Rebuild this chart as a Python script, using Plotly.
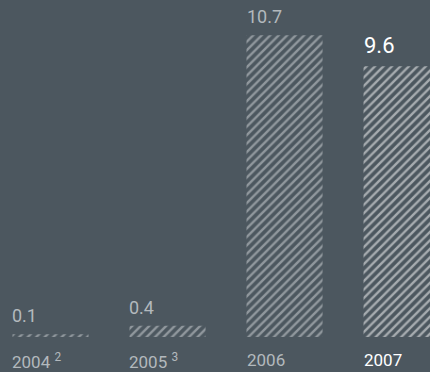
import plotly.graph_objects as go

years = ["2004 <sup>2</sup>", "2005 <sup>3</sup>", "2006", "2007"]
values = [0.1, 0.4, 10.7, 9.6]
value_labels = ["0.1", "0.4", "10.7", "9.6"]

BG = "#4c575f"
GREY_LINE = "#d4d8db"
GREY_TEXT = "#b3b9bd"
WHITE = "#ffffff"
line_colors = [GREY_LINE, GREY_LINE, GREY_LINE, WHITE]
text_colors = [GREY_TEXT, GREY_TEXT, GREY_TEXT, WHITE]
value_sizes = [18, 18, 18, 22]

xs = list(range(len(values)))
W = 0.65

fig = go.Figure()
fig.add_trace(go.Bar(
    x=xs, y=values, width=W,
    marker=dict(
        color=BG,
        line=dict(width=0),
        pattern=dict(shape="/", fgcolor=line_colors, bgcolor=BG, size=6, solidity=0.4, fillmode="overlay"),
    ),
    hoverinfo="skip",
))

for i, (v, lab) in enumerate(zip(values, value_labels)):
    fig.add_annotation(x=i - W / 2, y=v, xref="x", yref="y", text=lab, showarrow=False,
                       xanchor="left", yanchor="bottom", yshift=6, xshift=-2,
                       font=dict(family="Roboto", size=value_sizes[i], color=text_colors[i]))
    fig.add_annotation(x=i - W / 2, y=0, xref="x", yref="y", text=years[i], showarrow=False,
                       xanchor="left", yanchor="top", yshift=-11, xshift=-2,
                       font=dict(family="Roboto", size=17, color=text_colors[i]))

fig.update_layout(
    width=430, height=372,
    margin=dict(l=0, r=0, t=0, b=0),
    paper_bgcolor=BG, plot_bgcolor=BG,
    showlegend=False,
    xaxis=dict(range=[-0.4316, 3.243], visible=False, fixedrange=True),
    yaxis=dict(range=[-1.24, 11.95], visible=False, fixedrange=True),
)

fig.write_html("out.html")
